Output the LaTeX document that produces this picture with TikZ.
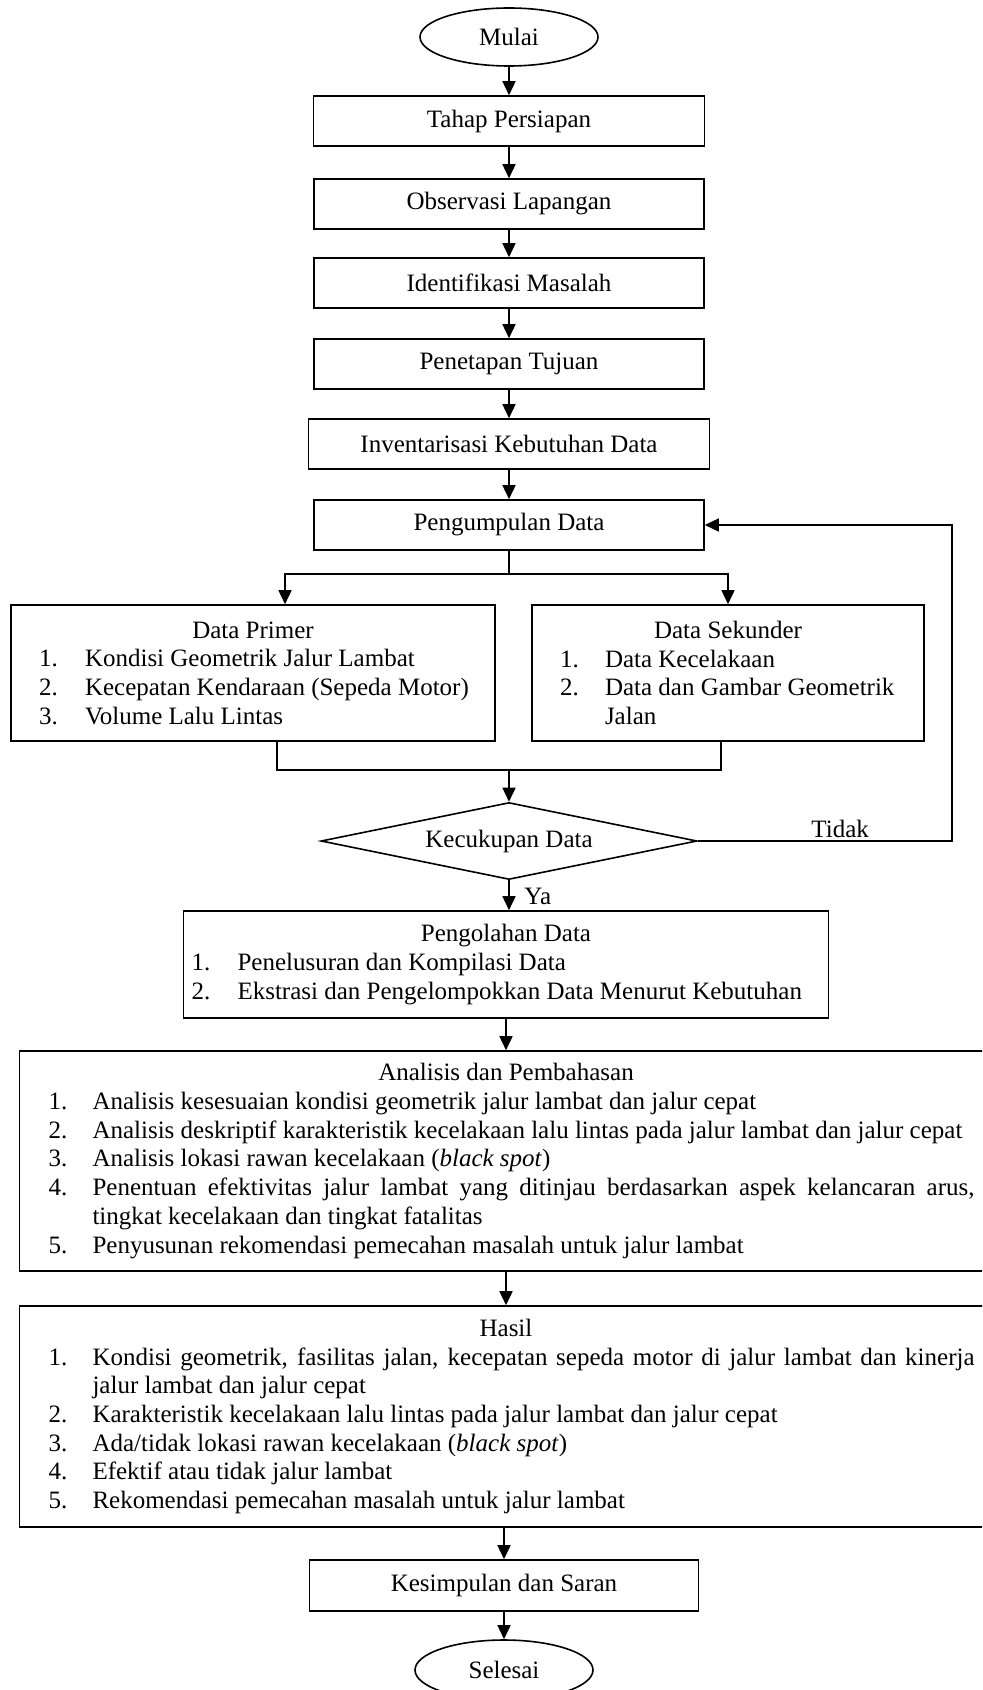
\documentclass[tikz,border=0pt]{standalone}
\usepackage{fontspec}
\setmainfont{Liberation Serif}
\usetikzlibrary{shapes.geometric,arrows.meta}

\newenvironment{steplist}[3]{%
  \begin{list}{}{%
    \setlength{\leftmargin}{#1}\setlength{\labelwidth}{#2}%
    \setlength{\rightmargin}{#3}\setlength{\labelsep}{0pt}%
    \setlength{\itemindent}{0pt}%
    \setlength{\topsep}{0pt}\setlength{\partopsep}{0pt}%
    \setlength{\itemsep}{0pt}\setlength{\parsep}{0pt}%
    \renewcommand{\makelabel}[1]{##1\hfil}}}%
  {\end{list}}

\begin{document}
\begin{tikzpicture}[x=0.5pt,y=-0.5pt,line width=0.8pt,
  >={Triangle[length=7pt,width=6.5pt]},
  font=\fontsize{12.5pt}{14.35pt}\selectfont,
  term node/.style={ellipse,draw,minimum width=89pt,minimum height=29pt,inner sep=0pt},
  step node/.style={rectangle,draw,minimum height=25pt,inner sep=0pt},
  list node/.style={rectangle,draw,inner sep=0pt},
  cond node/.style={diamond,draw,aspect=4.9,minimum width=188pt,minimum height=38.5pt,inner sep=0pt}]

  \useasboundingbox (0,0) rectangle (982,1690);
  \clip (0,0) rectangle (982,1690);

  \node[term node] (mulai) at (509,37) {Mulai};
  \node[step node,minimum width=195.5pt] (persiapan) at (509,121) {Tahap Persiapan};
  \node[step node,minimum width=195pt] (observasi) at (509,204) {Observasi Lapangan};
  \node[step node,minimum width=195pt] (masalah) at (509,283) {Identifikasi Masalah};
  \node[step node,minimum width=195pt] (tujuan) at (509,364) {Penetapan Tujuan};
  \node[step node,minimum width=200.5pt] (kebutuhan) at (509,444) {Inventarisasi Kebutuhan Data};
  \node[step node,minimum width=195pt] (kumpul) at (509,525) {Pengumpulan Data};

  \node[list node,minimum height=68pt] (primer) at (253,673) {%
    \begin{minipage}{242pt}
      {\centering Data Primer\par}
      \begin{steplist}{37pt}{23pt}{5pt}
        \item[1.] Kondisi Geometrik Jalur Lambat
        \item[2.] Kecepatan Kendaraan (Sepeda Motor)
        \item[3.] Volume Lalu Lintas
      \end{steplist}
    \end{minipage}};
  \node[list node,minimum height=68pt] (sekunder) at (728,673) {%
    \begin{minipage}{196pt}
      {\centering Data Sekunder\par}
      \begin{steplist}{36.5pt}{22.5pt}{5pt}
        \item[1.] Data Kecelakaan
        \item[2.] Data dan Gambar Geometrik\newline Jalan
      \end{steplist}
    \end{minipage}};

  \node[cond node] (cukup) at (509,841) {Kecukupan Data};

  \node[list node,minimum height=53.5pt] (olah) at (506,964.5) {%
    \begin{minipage}{322.5pt}
      {\centering Pengolahan Data\par}
      \begin{steplist}{27pt}{23pt}{4pt}
        \item[1.] Penelusuran dan Kompilasi Data
        \item[2.] Ekstrasi dan Pengelompokkan Data Menurut Kebutuhan
      \end{steplist}
    \end{minipage}};
  \node[list node,minimum height=110pt] (analisis) at (506,1161) {%
    \begin{minipage}{486.5pt}
      {\centering Analisis dan Pembahasan\par}
      \begin{steplist}{36.5pt}{22pt}{9pt}
        \item[1.] Analisis kesesuaian kondisi geometrik jalur lambat dan jalur cepat
        \item[2.] Analisis deskriptif karakteristik kecelakaan lalu lintas pada jalur lambat dan jalur cepat
        \item[3.] Analisis lokasi rawan kecelakaan (\textit{black spot})
        \item[4.] Penentuan efektivitas jalur lambat yang ditinjau berdasarkan aspek kelancaran arus,\linebreak
          tingkat kecelakaan dan tingkat fatalitas
        \item[5.] Penyusunan rekomendasi pemecahan masalah untuk jalur lambat
      \end{steplist}
    \end{minipage}};
  \node[list node,minimum height=110.5pt] (hasil) at (506,1416.5) {%
    \begin{minipage}{486.5pt}
      {\centering Hasil\par}
      \begin{steplist}{36.5pt}{22pt}{9pt}
        \item[1.] Kondisi geometrik, fasilitas jalan, kecepatan sepeda motor di jalur lambat dan kinerja\linebreak
          jalur lambat dan jalur cepat
        \item[2.] Karakteristik kecelakaan lalu lintas pada jalur lambat dan jalur cepat
        \item[3.] Ada/tidak lokasi rawan kecelakaan (\textit{black spot})
        \item[4.] Efektif atau tidak jalur lambat
        \item[5.] Rekomendasi pemecahan masalah untuk jalur lambat
      \end{steplist}
    \end{minipage}};

  \node[step node,minimum width=194.5pt,minimum height=25.5pt] (simpul) at (504,1585.5) {Kesimpulan dan Saran};
  \node[term node,minimum height=30pt] (selesai) at (504,1670) {Selesai};

  \coordinate (bagi) at (509,574);
  \coordinate (gabung) at (509,770);
  \coordinate (balik) at (952,841);

  \path[->]
   (mulai) edge (persiapan)
   (persiapan) edge (observasi)
   (observasi) edge (masalah)
   (masalah) edge (tujuan)
   (tujuan) edge (kebutuhan)
   (kebutuhan) edge (kumpul)
   (olah) edge (analisis)
   (analisis) edge (hasil)
   (simpul) edge (selesai);

  \draw (kumpul) -- (bagi);
  \draw[->] (bagi) -| ([xshift=16pt]primer.north);
  \draw[->] (bagi) -| (sekunder.north);
  \draw ([xshift=12pt]primer.south) |- (gabung) -| ([xshift=-3.5pt]sekunder.south);
  \draw[->] (gabung) -- (cukup);
  \draw[->] (cukup.east) -- node[above,pos=0.56,inner sep=1pt] (tidak) {Tidak} (balik) |- (kumpul.east);
  \draw[->] (cukup.south) -- node[right=4pt,pos=0.55] (ya) {Ya} (cukup.south |- olah.north);
  \draw[->] (hasil.south -| simpul) -- (simpul);
\end{tikzpicture}
\end{document}
